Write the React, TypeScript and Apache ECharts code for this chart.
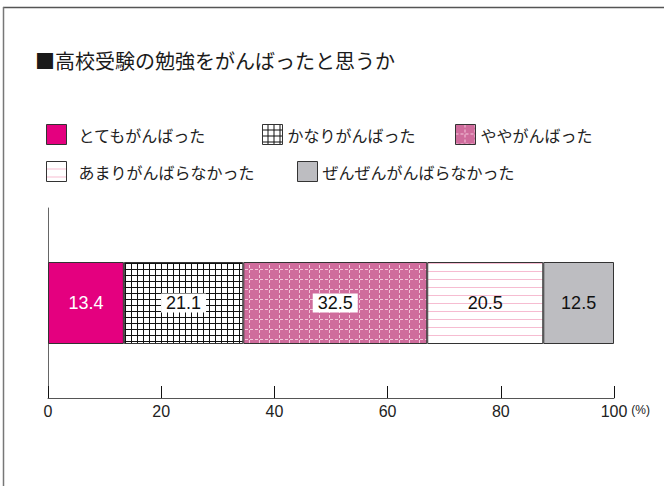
import React, { useEffect, useRef } from 'react';
import * as echarts from 'echarts';

const categories = ['高校受験の勉強'];
const seriesNames = [
  'とてもがんばった',
  'かなりがんばった',
  'ややがんばった',
  'あまりがんばらなかった',
  'ぜんぜんがんばらなかった',
];
const seriesValues = [13.4, 21.1, 32.5, 20.5, 12.5];
const xTickMin = 0;
const xTickMax = 100;
const xTickStep = 20;
const titleText = '■高校受験の勉強をがんばったと思うか';
const unitText = '(%)';

const JP = '"Noto Sans CJK JP", "Noto Sans", sans-serif';
const NUM = '"Liberation Sans", Arial, sans-serif';

function makeCanvas(w: number, h: number, draw: (ctx: CanvasRenderingContext2D) => void) {
  const c = document.createElement('canvas');
  c.width = w;
  c.height = h;
  const ctx = c.getContext('2d') as CanvasRenderingContext2D;
  draw(ctx);
  return c;
}

function buildFills(): any[] {
  const gridPat = makeCanvas(6, 6, (ctx) => {
    ctx.fillStyle = '#ffffff';
    ctx.fillRect(0, 0, 6, 6);
    ctx.fillStyle = '#111111';
    ctx.fillRect(5, 0, 1, 6);
    ctx.fillRect(0, 5, 6, 1);
  });
  const dashPat = makeCanvas(10, 10, (ctx) => {
    ctx.fillStyle = '#cf6c9c';
    ctx.fillRect(0, 0, 10, 10);
    ctx.fillStyle = 'rgba(250,215,232,0.85)';
    ctx.fillRect(0, 9, 3, 1);
    ctx.fillRect(5, 9, 3, 1);
    ctx.fillRect(9, 0, 1, 3);
    ctx.fillRect(9, 5, 1, 3);
  });
  const linePat = makeCanvas(8, 8, (ctx) => {
    ctx.fillStyle = '#ffffff';
    ctx.fillRect(0, 0, 8, 8);
    ctx.fillStyle = '#f6bcd1';
    ctx.fillRect(0, 7, 8, 1);
  });
  return [
    '#e4007f',
    { image: gridPat, repeat: 'repeat' },
    { image: dashPat, repeat: 'repeat' },
    { image: linePat, repeat: 'repeat' },
    '#bdbdc1',
  ];
}

const labelStyles: any[] = [
  { color: '#ffffff' },
  { color: '#111111', backgroundColor: '#ffffff', padding: [1, 5, 0, 5] },
  { color: '#111111', backgroundColor: '#ffffff', padding: [1, 5, 0, 5] },
  { color: '#111111' },
  { color: '#111111' },
];

const legendPos = [
  { left: 46, top: 124, gap: 7 },
  { left: 262, top: 124, gap: 0 },
  { left: 455, top: 124, gap: 0 },
  { left: 46, top: 161, gap: 7 },
  { left: 297, top: 161, gap: 0 },
];

export default function App() {
  const ref = useRef<HTMLDivElement>(null);

  useEffect(() => {
    document.body.style.margin = '0';
    if (!ref.current) return;
    const chart = echarts.init(ref.current, undefined, { renderer: 'svg' });
    const fills = buildFills();

    const series = seriesNames.map((name, i) => ({
      name,
      type: 'bar',
      stack: 'total',
      barWidth: 82,
      data: [seriesValues[i]],
      itemStyle: { color: fills[i], borderColor: '#333333', borderWidth: 1 },
      label: {
        show: true,
        position: 'inside',
        fontSize: 18,
        fontFamily: NUM,
        formatter: (p: any) => Number(p.value).toFixed(1),
        ...labelStyles[i],
      },
    }));

    const legends = seriesNames.map((name, i) => ({
      show: true,
      left: legendPos[i].left,
      top: legendPos[i].top,
      padding: 0,
      data: [name],
      icon: 'rect',
      itemWidth: 20,
      itemHeight: 20,
      selectedMode: false,
      itemStyle: { borderColor: '#333333', borderWidth: 1 },
      textStyle: {
        fontSize: 16,
        fontFamily: JP,
        color: '#222222',
        padding: [0, 0, 0, legendPos[i].gap],
      },
    }));

    chart.setOption({
      animation: false,
      backgroundColor: '#ffffff',
      title: {
        text: titleText,
        left: 35,
        top: 50,
        padding: 0,
        textStyle: { fontSize: 20, fontFamily: JP, fontWeight: 'normal', color: '#1a1a1a' },
      },
      legend: legends,
      grid: { left: 48, right: 50, top: 208, bottom: 88, containLabel: false },
      xAxis: {
        type: 'value',
        min: xTickMin,
        max: xTickMax,
        interval: xTickStep,
        name: unitText,
        nameLocation: 'end',
        nameGap: 13,
        nameTextStyle: {
          fontSize: 12,
          fontFamily: NUM,
          color: '#222222',
          verticalAlign: 'top',
          padding: [6, 0, 0, 0],
        },
        axisLine: { show: true, lineStyle: { color: '#555555', width: 1 } },
        axisTick: { show: true, inside: true, length: 12, lineStyle: { color: '#111111', width: 1 } },
        axisLabel: { fontSize: 16, fontFamily: NUM, color: '#222222', margin: 5 },
        splitLine: { show: false },
      },
      yAxis: {
        type: 'category',
        data: categories,
        axisLine: { show: true, lineStyle: { color: '#666666', width: 1 } },
        axisTick: { show: false },
        axisLabel: { show: false },
        splitLine: { show: false },
      },
      graphic: [
        { type: 'line', shape: { x1: 3, y1: 7.5, x2: 664, y2: 7.5 }, style: { stroke: '#555555', lineWidth: 1.5 } },
        { type: 'line', shape: { x1: 3.5, y1: 7, x2: 3.5, y2: 486 }, style: { stroke: '#777777', lineWidth: 1.5 } },
      ],
      series,
    });

    return () => {
      chart.dispose();
    };
  }, []);

  return <div ref={ref} style={{ width: 664, height: 486 }} />;
}
